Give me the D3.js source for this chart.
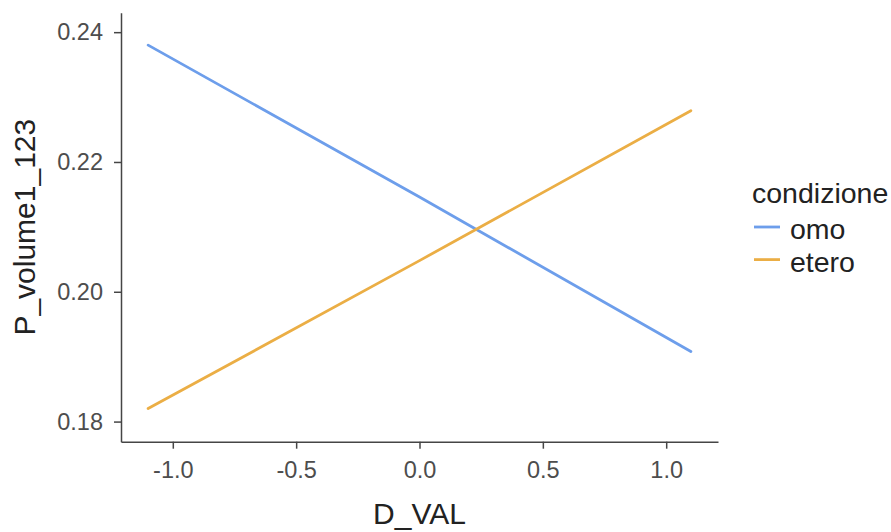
<!DOCTYPE html>
<html>
<head>
<meta charset="utf-8">
<script src="https://cdn.jsdelivr.net/npm/d3@7"></script>
<style>
  body { margin: 0; background: #fff; }
  svg { font-family: "Liberation Sans", Arial, sans-serif; }
</style>
</head>
<body>
<div id="chart"></div>
<script>
// values
var dVal = [-1.1, 0.0, 1.1];
var omo = [0.2380, 0.2146, 0.1908];
var etero = [0.1820, 0.2048, 0.2279];
var series = [
	{ name: "omo", values: omo, color: "#6d9eeb" },
	{ name: "etero", values: etero, color: "#ebae45" }
];
var xTicks = [-1.0, -0.5, 0.0, 0.5, 1.0];
var yTicks = [0.18, 0.20, 0.22, 0.24];

var width = 891, height = 532;
var mLeft = 121, mRight = 718, mTop = 12.7, mBottom = 441.7;
var axisColor = "#454545", textColor = "#4d4d4d";

var svg = d3.select("#chart").append("svg")
	.attr("width", width)
	.attr("height", height);

var x = d3.scaleLinear().domain([-1.21, 1.21]).range([mLeft, mRight]);
var y = d3.scaleLinear().domain([0.1769, 0.2430]).range([mBottom, mTop]);

// axes
var xAxis = svg.append("g")
	.attr("transform", "translate(0," + mBottom + ")")
	.call(d3.axisBottom(x).tickValues(xTicks).tickSize(7).tickSizeOuter(0).tickPadding(13)
		.tickFormat(function(d) { return d3.format(".1f")(d).replace("\u2212", "-"); }));

var yAxis = svg.append("g")
	.attr("transform", "translate(" + mLeft + ",0)")
	.call(d3.axisLeft(y).tickValues(yTicks).tickSize(7).tickSizeOuter(0).tickPadding(11)
		.tickFormat(d3.format(".2f")));

[xAxis, yAxis].forEach(function(ax) {
	ax.select(".domain").attr("stroke", axisColor).attr("stroke-width", 1.5);
	ax.selectAll(".tick line").attr("stroke", axisColor).attr("stroke-width", 1.5);
	ax.selectAll(".tick text")
		.attr("fill", textColor)
		.style("font-size", "23.5px")
		.style("font-family", "Liberation Sans, Arial, sans-serif");
});

// lines
var line = d3.line()
	.x(function(d, i) { return x(dVal[i]); })
	.y(function(d) { return y(d); });

svg.selectAll(".series")
	.data(series)
	.enter().append("path")
	.attr("class", "series")
	.attr("d", function(d) { return line(d.values); })
	.attr("fill", "none")
	.attr("stroke", function(d) { return d.color; })
	.attr("stroke-width", 2.8)
	.attr("stroke-linecap", "round");

// axis titles
svg.append("text")
	.attr("x", (mLeft + mRight) / 2)
	.attr("y", 524)
	.attr("text-anchor", "middle")
	.attr("fill", "#222")
	.style("font-size", "30px")
	.text("D_VAL");

svg.append("text")
	.attr("transform", "translate(35," + ((mTop + mBottom) / 2) + ") rotate(-90)")
	.attr("text-anchor", "middle")
	.attr("fill", "#222")
	.style("font-size", "30px")
	.text("P_volume1_123");

// legend
var legend = svg.append("g").attr("transform", "translate(752,0)");
legend.append("text")
	.attr("x", 0)
	.attr("y", 203)
	.attr("fill", "#222")
	.style("font-size", "28.5px")
	.text("condizione");

var items = legend.selectAll(".item")
	.data(series)
	.enter().append("g")
	.attr("class", "item")
	.attr("transform", function(d, i) { return "translate(0," + (227 + i * 32.6) + ")"; });

items.append("line")
	.attr("x1", 2).attr("x2", 28)
	.attr("y1", 0).attr("y2", 0)
	.attr("stroke", function(d) { return d.color; })
	.attr("stroke-width", 2.8);

items.append("text")
	.attr("x", 38)
	.attr("y", 12)
	.attr("fill", "#222")
	.style("font-size", "28.5px")
	.text(function(d) { return d.name; });
</script>
</body>
</html>
